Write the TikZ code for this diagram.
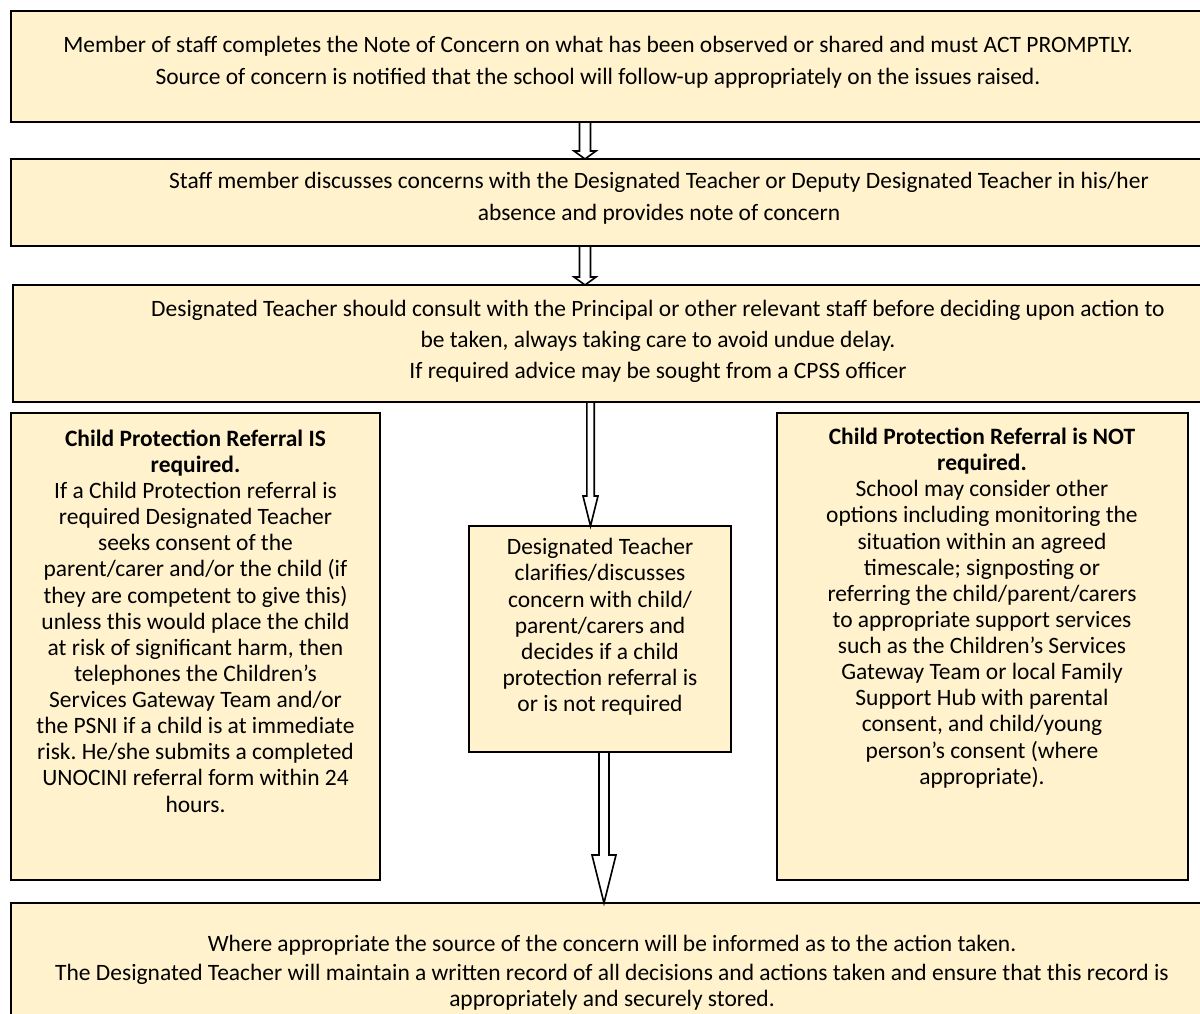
\documentclass[tikz,border=0pt]{standalone}
\usepackage{fontspec}
\setmainfont{Carlito}
\usetikzlibrary{calc}
\definecolor{boxfill}{HTML}{FFF2CC}
\frenchspacing
\newcommand{\blockarrow}[6]{%
  \draw[blockarr] ($(#2.south -| #1)+(-#4,0)$) -- ($(#3.north -| #1)+(-#4,-#6)$)
    -- ($(#3.north -| #1)+(-#5,-#6)$) -- (#3.north -| #1)
    -- ($(#3.north -| #1)+(#5,-#6)$) -- ($(#3.north -| #1)+(#4,-#6)$)
    -- ($(#2.south -| #1)+(#4,0)$) -- cycle;}
\begin{document}
\begin{tikzpicture}[x=0.5625pt,y=-0.5625pt,
  box/.style={draw=black, line width=1.1pt, fill=boxfill, anchor=north west, inner sep=0pt, outer sep=0pt},
  thick box/.style={box, line width=1.5pt},
  txt/.style={inner sep=0pt, align=center, font=\fontsize{13.2}{14.7}\selectfont},
  blockarr/.style={draw=black, fill=white, line width=0.9pt, line join=miter}]
\clip (0,0) rectangle (1200,1014);
\fill[white] (0,0) rectangle (1200,1014);

% boxes
\node[box, minimum width=1199*0.5625pt, minimum height=111*0.5625pt] (b1) at (11,11) {};
\node[box, minimum width=1199*0.5625pt, minimum height=87*0.5625pt] (b2) at (11,159) {};
\node[thick box, minimum width=1197*0.5625pt, minimum height=117*0.5625pt] (b3) at (13,285) {};
\node[box, minimum width=369*0.5625pt, minimum height=467*0.5625pt] (bL) at (11,413) {};
\node[box, minimum width=262*0.5625pt, minimum height=226*0.5625pt] (bM) at (469,526) {};
\node[box, minimum width=411*0.5625pt, minimum height=467*0.5625pt] (bR) at (777,413) {};
\node[thick box, minimum width=1199*0.5625pt, minimum height=130*0.5625pt] (b7) at (11,903) {};

% texts
\node[txt] (t1) at (598,62) {Member of staff completes the Note of Concern on what has been observed or shared and must ACT PROMPTLY.\\[3.3pt]
Source of concern is notified that the school will follow-up appropriately on the issues raised.};
\node[txt] (t2) at (659,198) {Staff member discusses concerns with the Designated Teacher or Deputy Designated Teacher in his/her\\[3.3pt]
absence and provides note of concern};
\node[txt] (t3) at (658,341) {Designated Teacher should consult with the Principal or other relevant staff before deciding upon action to\\[2.7pt]
be taken, always taking care to avoid undue delay.\\[2.7pt]
If required advice may be sought from a CPSS officer};
\node[txt] (tL) at (195.5,621) {\textbf{Child Protection Referral IS}\\
\textbf{required.}\\
If a Child Protection referral is\\
required Designated Teacher\\
seeks consent of the\\
parent/carer and/or the child (if\\
they are competent to give this)\\
unless this would place the child\\
at risk of significant harm, then\\
telephones the Children’s\\
Services Gateway Team and/or\\
the PSNI if a child is at immediate\\
risk. He/she submits a completed\\
UNOCINI referral form within 24\\
hours.};
\node[txt] (tM) at (600,627) {Designated Teacher\\
clarifies/discusses\\
concern with child/\\
parent/carers and\\
decides if a child\\
protection referral is\\
or is not required};
\node[txt] (tR) at (982,608) {\textbf{Child Protection Referral is NOT}\\
\textbf{required.}\\
School may consider other\\
options including monitoring the\\
situation within an agreed\\
timescale; signposting or\\
referring the child/parent/carers\\
to appropriate support services\\
such as the Children’s Services\\
Gateway Team or local Family\\
Support Hub with parental\\
consent, and child/young\\
person’s consent (where\\
appropriate).};
\node[txt] (t7) at (612,973) {Where appropriate the source of the concern will be informed as to the action taken.\\[1.8pt]
The Designated Teacher will maintain a written record of all decisions and actions taken and ensure that this record is\\
appropriately and securely stored.};

% arrow axes
\coordinate (x1) at (585,0);
\coordinate (x3) at (590.5,0);
\coordinate (x4) at (604,0);

% block arrows
\blockarrow{x1}{b1}{b2}{5.5}{11}{8}
\blockarrow{x1}{b2}{b3}{5.5}{11}{8}
\blockarrow{x3}{b3}{bM}{3.7}{7.5}{30}
\blockarrow{x4}{bM}{b7}{5}{12}{48}
\end{tikzpicture}
\end{document}
